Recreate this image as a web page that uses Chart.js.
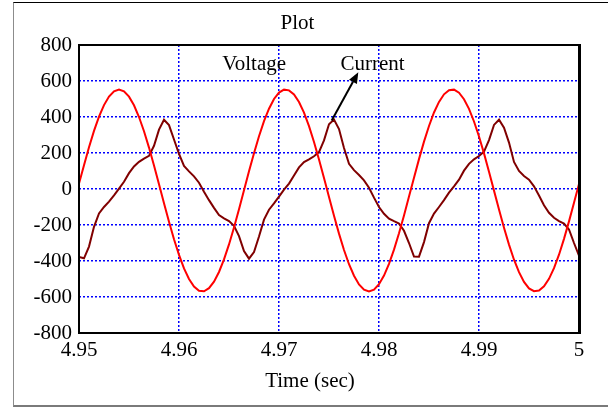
<!DOCTYPE html>
<html><head><meta charset="utf-8">
<script src="https://cdn.jsdelivr.net/npm/chart.js@4"></script>
<style>
html,body{margin:0;padding:0;background:#fff;}
#wrap{position:relative;width:608px;height:409px;overflow:hidden;}
#frame{position:absolute;left:13px;top:2px;width:600px;height:402px;border-left:1px solid #8c8c8c;border-top:1px solid #000;border-bottom:2px solid #7a7a7a;pointer-events:none;}
canvas{position:absolute;left:0;top:0;}
</style></head>
<body><div id="wrap"><canvas id="c" width="608" height="409"></canvas><div id="frame"></div></div>
<script>
// ---- data ----
const T_START = 4.95;          // first sample time (sec)
const T_STEP = 0.0005;         // sample spacing (sec)
const voltage = [
  30,132,232,323,402,466,514,543,553,543,
  513,465,400,321,230,131,26,-79,-182,-279,
  -366,-441,-500,-542,-565,-568,-551,-515,-461,-391,
  -308,-214,-112,-7,98,199,293,377,446,500,
  536,552,548,525,483,424,349,261,164,61,
  -44,-148,-248,-339,-418,-482,-530,-559,-569,-559,
  -529,-481,-416,-337,-246,-147,-42,63,166,263,
  350,425,484,526,549,552,535,499,445,375,
  292,198,96,-9,-114,-215,-309,-393,-462,-516,
  -552,-568,-564,-541,-499,-440,-365,-277,-180,-77,
  28
];
const current = [
  -378,-385,-320,-210,-136,-100,-70,-35,2,40,
  88,125,151,169,184,240,330,385,355,275,
  195,128,98,70,35,-15,-62,-105,-145,-163,
  -178,-205,-262,-345,-387,-350,-264,-170,-115,-80,
  -42,-4,30,75,120,150,165,182,205,270,
  360,386,333,228,140,105,78,48,7,-48,
  -100,-138,-165,-179,-192,-232,-300,-375,-376,-295,
  -190,-137,-100,-62,-20,15,52,102,140,165,
  183,208,272,356,385,340,258,150,100,72,
  52,15,-36,-90,-132,-160,-178,-192,-225,-300,
  -370
];
const xTicks = [4.95, 4.96, 4.97, 4.98, 4.99, 5];
const yTicks = [-800, -600, -400, -200, 0, 200, 400, 600, 800];
const labelTexts = ['Voltage', 'Current'];
const labelTimes = [4.96752, 4.97935];
const labelValues = [693, 693];
const arrowFrom = [4.97527, 381];
const arrowTo = [4.97793, 649];

const times = voltage.map((_, i) => T_START + i * T_STEP);
const vPts = voltage.map((v, i) => ({x: times[i], y: v}));
const iPts = current.map((v, i) => ({x: times[i], y: v}));

const FONT = 'Liberation Serif';

const framePlugin = {
  id: 'frame',
  afterDatasetsDraw(chart) {
    const {ctx, chartArea: a} = chart;
    ctx.save();
    ctx.strokeStyle = '#000';
    ctx.lineWidth = 2;
    ctx.strokeRect(a.left, a.top, a.right - a.left, a.bottom - a.top);
    ctx.lineWidth = 1;
    ctx.beginPath();
    ctx.moveTo(a.right + 1.5, a.top - 1);
    ctx.lineTo(a.right + 1.5, a.bottom + 1);
    ctx.stroke();
    ctx.restore();
  }
};

const annotPlugin = {
  id: 'annot',
  afterDraw(chart) {
    const {ctx, scales: {x, y}} = chart;
    ctx.save();
    ctx.font = '21px "' + FONT + '"';
    ctx.fillStyle = '#000';
    ctx.textAlign = 'center';
    ctx.textBaseline = 'middle';
    labelTexts.forEach((t, i) => {
      ctx.fillText(t, x.getPixelForValue(labelTimes[i]), y.getPixelForValue(labelValues[i]));
    });
    // axis title
    ctx.fillText('Time (sec)', 310, 381);
    // arrow
    const x0 = x.getPixelForValue(arrowFrom[0]), y0 = y.getPixelForValue(arrowFrom[1]);
    const x1 = x.getPixelForValue(arrowTo[0]), y1 = y.getPixelForValue(arrowTo[1]);
    const ang = Math.atan2(y1 - y0, x1 - x0);
    const hl = 11, hw = 4.5;
    const bx = x1 - hl * Math.cos(ang), by = y1 - hl * Math.sin(ang);
    ctx.strokeStyle = '#000';
    ctx.lineWidth = 2;
    ctx.beginPath();
    ctx.moveTo(x0, y0);
    ctx.lineTo(bx, by);
    ctx.stroke();
    ctx.beginPath();
    ctx.moveTo(x1, y1);
    ctx.lineTo(bx + hw * Math.sin(ang), by - hw * Math.cos(ang));
    ctx.lineTo(bx - hw * Math.sin(ang), by + hw * Math.cos(ang));
    ctx.closePath();
    ctx.fill();
    ctx.restore();
  }
};

const gridStyle = {
  color: '#0000ff',
  lineWidth: 1.5,
  drawTicks: false
};

new Chart(document.getElementById('c'), {
  type: 'line',
  data: {
    datasets: [
      {label: 'Voltage', data: vPts, borderColor: '#ff0000', borderWidth: 2, pointRadius: 0, tension: 0, fill: false},
      {label: 'Current', data: iPts, borderColor: '#800000', borderWidth: 2, pointRadius: 0, tension: 0, fill: false}
    ]
  },
  options: {
    responsive: false,
    animation: false,
    devicePixelRatio: 1,
    layout: {padding: {left: 16, right: 29, top: 0, bottom: 0}},
    plugins: {
      legend: {display: false},
      tooltip: {enabled: false},
      title: {
        display: true,
        text: 'Plot',
        color: '#000',
        font: {family: FONT, size: 21, weight: 'normal', lineHeight: 1.2},
        padding: {top: 11.3, bottom: 8.5}
      }
    },
    scales: {
      x: {
        type: 'linear',
        min: xTicks[0],
        max: xTicks[xTicks.length - 1],
        afterBuildTicks: (s) => { s.ticks = xTicks.map(v => ({value: v})); },
        afterFit: (s) => { s.height = 76; },
        ticks: {
          color: '#000',
          padding: 5,
          maxRotation: 0,
          autoSkip: false,
          font: {family: FONT, size: 21, lineHeight: 1.2},
          callback: (v) => String(Number(v.toFixed(2)))
        },
        grid: Object.assign({}, gridStyle),
        border: {display: false, dash: [2, 2]}
      },
      y: {
        type: 'linear',
        min: yTicks[0],
        max: yTicks[yTicks.length - 1],
        afterBuildTicks: (s) => { s.ticks = yTicks.map(v => ({value: v})); },
        afterFit: (s) => { s.width = 63; },
        ticks: {
          color: '#000',
          padding: 7,
          autoSkip: false,
          font: {family: FONT, size: 21, lineHeight: 1.2},
          callback: (v) => String(v)
        },
        grid: Object.assign({}, gridStyle),
        border: {display: false, dash: [2, 2]}
      }
    }
  },
  plugins: [framePlugin, annotPlugin]
});
</script>
</body></html>
